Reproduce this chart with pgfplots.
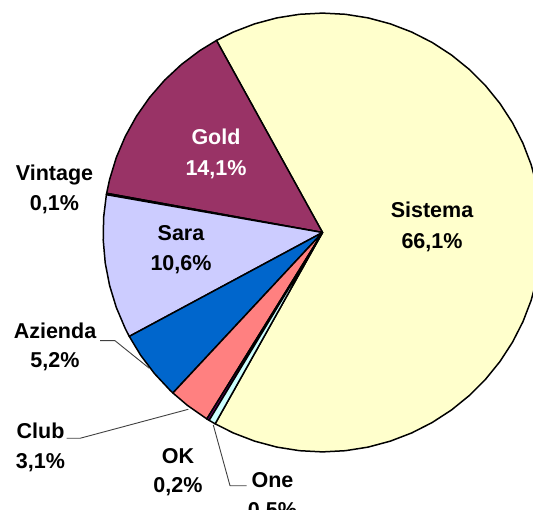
\documentclass[border=0pt]{standalone}
\usepackage{fontspec}
\setmainfont{Liberation Sans}
\usepackage{pgfplots}
\pgfplotsset{compat=1.18}
\usepgfplotslibrary{polar}
\definecolor{cSistema}{HTML}{FFFFCC}
\definecolor{cGold}{HTML}{993366}
\definecolor{cVintage}{HTML}{9999FF}
\definecolor{cSara}{HTML}{CCCCFF}
\definecolor{cAzienda}{HTML}{0066CC}
\definecolor{cClub}{HTML}{FF8080}
\definecolor{cOK}{HTML}{660066}
\definecolor{cOne}{HTML}{CCFFFF}
\begin{document}
\begin{tikzpicture}
\begin{axis}[
  width=533pt, height=509pt, scale only axis, hide axis,
  xmin=-322.5, xmax=210.5, ymin=-276.5, ymax=232.5,
  clip=true,
  every axis plot/.append style={line join=round},
]
% slices: (angle in degrees, radius) polar data
\addplot[data cs=polar, fill=cSistema, draw=black, line width=1.5pt, mark=none] coordinates {
(0,0) (240.70,219.4) (246,219.4) (252,219.4) (258,219.4) (264,219.4) (270,219.4) (276,219.4) (282,219.4) (288,219.4) (294,219.4) (300,219.4) (306,219.4) (312,219.4) (318,219.4) (324,219.4) (330,219.4) (336,219.4) (342,219.4) (348,219.4) (354,219.4) (360,219.4) (366,219.4) (372,219.4) (378,219.4) (384,219.4) (390,219.4) (396,219.4) (402,219.4) (408,219.4) (414,219.4) (420,219.4) (426,219.4) (432,219.4) (438,219.4) (444,219.4) (450,219.4) (456,219.4) (462,219.4) (468,219.4) (474,219.4) (478.90,219.4)
} -- cycle;
\addplot[data cs=polar, fill=cGold, draw=black, line width=1.5pt, mark=none] coordinates {
(0,0) (118.90,219.4) (124,219.4) (130,219.4) (136,219.4) (142,219.4) (148,219.4) (154,219.4) (160,219.4) (166,219.4) (169.71,219.4)
} -- cycle;
\addplot[data cs=polar, fill=cVintage, draw=black, line width=1.5pt, mark=none] coordinates {
(0,0) (169.71,219.4) (170.07,219.4)
} -- cycle;
\addplot[data cs=polar, fill=cSara, draw=black, line width=1.5pt, mark=none] coordinates {
(0,0) (170.07,219.4) (176,219.4) (182,219.4) (188,219.4) (194,219.4) (200,219.4) (206,219.4) (208.27,219.4)
} -- cycle;
\addplot[data cs=polar, fill=cAzienda, draw=black, line width=1.5pt, mark=none] coordinates {
(0,0) (208.27,219.4) (214,219.4) (220,219.4) (226,219.4) (227.01,219.4)
} -- cycle;
\addplot[data cs=polar, fill=cClub, draw=black, line width=1.5pt, mark=none] coordinates {
(0,0) (227.01,219.4) (232,219.4) (238.18,219.4)
} -- cycle;
\addplot[data cs=polar, fill=cOK, draw=black, line width=1.5pt, mark=none] coordinates {
(0,0) (238.18,219.4) (238.90,219.4)
} -- cycle;
\addplot[data cs=polar, fill=cOne, draw=black, line width=1.5pt, mark=none] coordinates {
(0,0) (238.90,219.4) (240.70,219.4)
} -- cycle;
% leader lines
\addplot[black!75, line width=0.9pt, mark=none] coordinates {(-222.5,-108.2) (-207.5,-108.2) (-173.2,-135.8)};
\addplot[black!75, line width=0.9pt, mark=none] coordinates {(-255.8,-205.8) (-242.5,-205.8) (-134.2,-176.8)};
\addplot[black!75, line width=0.9pt, mark=none] coordinates {(-109.2,-192.5) (-92.5,-253.2) (-75.8,-253.2)};
% labels
\tikzset{lab/.style={anchor=base, inner sep=0pt, font=\fontsize{21.5}{30}\selectfont\bfseries}}
\node[lab, white] at (axis cs:-106.5,87.5) {Gold};
\node[lab, white] at (axis cs:-106.5,56.5) {14,1\%};
\node[lab] at (axis cs:109.5,14.5) {Sistema};
\node[lab] at (axis cs:109.5,-16.5) {66,1\%};
\node[lab] at (axis cs:-268,52) {Vintage};
\node[lab] at (axis cs:-268,21.5) {0,1\%};
\node[lab] at (axis cs:-141.5,-8.3) {Sara};
\node[lab] at (axis cs:-141.5,-37.9) {10,6\%};
\node[lab] at (axis cs:-267.5,-105.9) {Azienda};
\node[lab] at (axis cs:-267.5,-135.5) {5,2\%};
\node[lab] at (axis cs:-282,-206.3) {Club};
\node[lab] at (axis cs:-282,-235.5) {3,1\%};
\node[lab] at (axis cs:-144.5,-230.8) {OK};
\node[lab] at (axis cs:-144.5,-259.7) {0,2\%};
\node[lab] at (axis cs:-50,-255.5) {One};
\node[lab] at (axis cs:-50,-284.5) {0,5\%};
\end{axis}
\pgfresetboundingbox
\path (current axis.south west) rectangle (current axis.north east);
\end{tikzpicture}
\end{document}
